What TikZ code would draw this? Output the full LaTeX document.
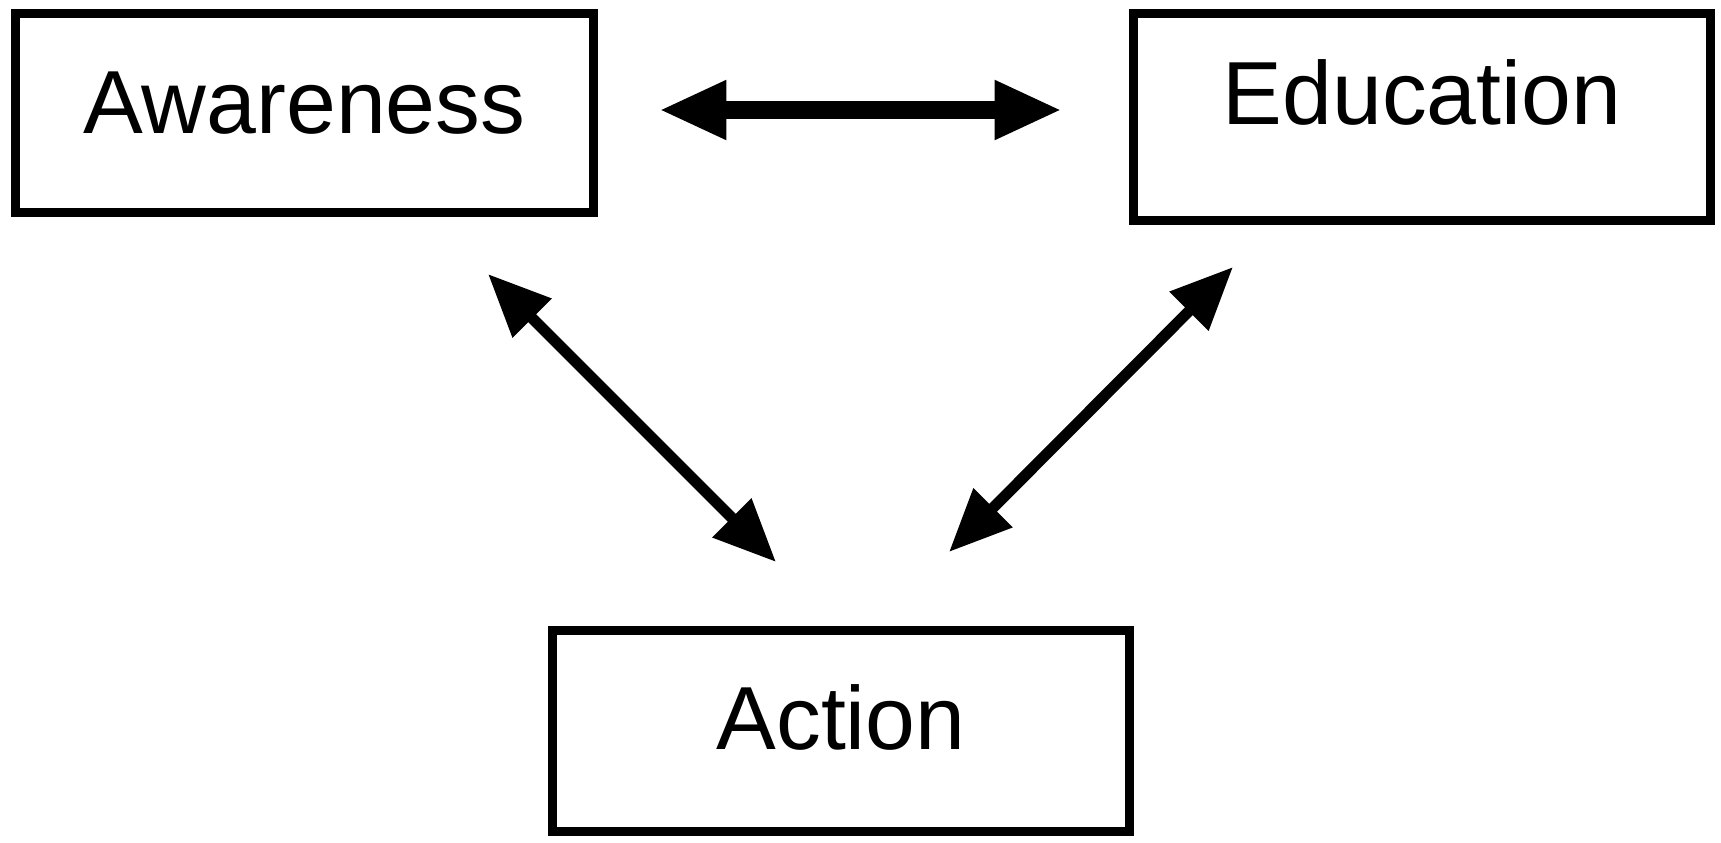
\documentclass[tikz,border=0pt]{standalone}
\usepackage{fontspec}
\setmainfont{Liberation Sans}
\usetikzlibrary{arrows.meta,positioning}

\begin{document}
\begin{tikzpicture}[x=0.02cm,y=-0.02cm]
    \tikzset{stage/.style= {draw, rectangle, line width=0.18cm, inner sep=0, minimum width=11.56cm, text height=1.28cm, font={\fontsize{51}{51}\selectfont}} }
    \tikzset{link/.style= {line width=0.22cm, {Triangle[length=1.25cm,width=1.05cm]}-{Triangle[length=1.25cm,width=1.05cm]}} }
    \tikzset{boldlink/.style= {line width=0.36cm, {Triangle[length=1.35cm,width=1.1cm]}-{Triangle[length=1.35cm,width=1.1cm]}} }
    \useasboundingbox (0,0) rectangle (1721,842);

    \node[stage, minimum height=3.98cm, text depth=0.44cm] (awareness) at (304.5,113) {Awareness};
    \node[stage, minimum height=4.14cm, text depth=1.0cm] (education) at (1422,117) {Education};
    \node[stage, minimum height=4.02cm, text depth=0.56cm] (action) at (841,731) {Action};

    % free ends of the connectors
    \coordinate (aw-ed) at (659,110);
    \coordinate (ed-aw) at (1062,110);
    \coordinate (aw-ac) at (488,274);
    \coordinate (ac-aw) at (776,562);
    \coordinate (ed-ac) at (1233,267);
    \coordinate (ac-ed) at (949,552);

    \draw[boldlink] (aw-ed) -- (ed-aw);
    \draw[link] (aw-ac) -- (ac-aw);
    \draw[link] (ed-ac) -- (ac-ed);
\end{tikzpicture}
\end{document}
